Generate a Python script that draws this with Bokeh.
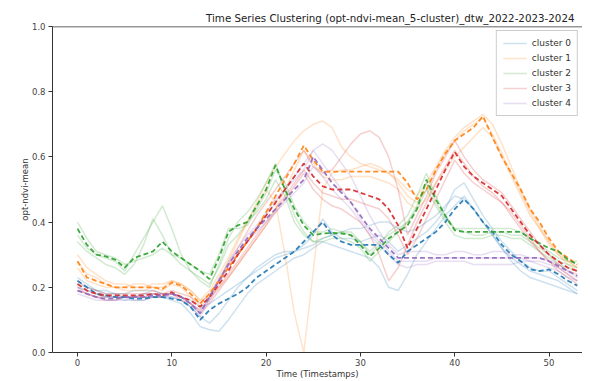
from bokeh.plotting import figure
from bokeh.models import Span, FixedTicker, NumeralTickFormatter, Legend, LegendItem
from bokeh.embed import file_html
from bokeh.resources import INLINE

timestamps = list(range(54))

cluster_names = ["cluster 0", "cluster 1", "cluster 2", "cluster 3", "cluster 4"]
cluster_colors = ["#1f77b4", "#ff7f0e", "#2ca02c", "#d62728", "#9467bd"]

# ---- cluster centroids (dashed) ----
centroid_0 = [0.22, 0.20, 0.18, 0.175, 0.17, 0.17, 0.165, 0.165, 0.17, 0.17,
              0.165, 0.16, 0.14, 0.10, 0.13, 0.15, 0.165, 0.18, 0.20, 0.23,
              0.25, 0.27, 0.29, 0.31, 0.34, 0.37, 0.40, 0.36, 0.34, 0.33,
              0.33, 0.33, 0.33, 0.30, 0.275, 0.31, 0.33, 0.35, 0.37, 0.40,
              0.44, 0.47, 0.44, 0.40, 0.37, 0.33, 0.30, 0.28, 0.255, 0.25,
              0.255, 0.24, 0.22, 0.205]
centroid_1 = [0.28, 0.23, 0.22, 0.21, 0.20, 0.20, 0.20, 0.20, 0.20, 0.195,
              0.215, 0.205, 0.18, 0.15, 0.18, 0.22, 0.26, 0.30, 0.34, 0.38,
              0.43, 0.48, 0.53, 0.58, 0.635, 0.59, 0.555, 0.555, 0.555, 0.555,
              0.555, 0.555, 0.555, 0.555, 0.555, 0.52, 0.47, 0.50, 0.56, 0.61,
              0.65, 0.67, 0.69, 0.725, 0.66, 0.60, 0.55, 0.50, 0.44, 0.40,
              0.35, 0.31, 0.29, 0.27]
centroid_2 = [0.38, 0.33, 0.30, 0.295, 0.285, 0.26, 0.29, 0.30, 0.31, 0.34,
              0.31, 0.29, 0.27, 0.25, 0.225, 0.29, 0.37, 0.39, 0.40, 0.45,
              0.50, 0.575, 0.50, 0.44, 0.39, 0.36, 0.365, 0.367, 0.365, 0.36,
              0.33, 0.295, 0.32, 0.35, 0.37, 0.39, 0.44, 0.53, 0.47, 0.42,
              0.375, 0.37, 0.37, 0.37, 0.37, 0.37, 0.37, 0.37, 0.35, 0.335,
              0.32, 0.31, 0.285, 0.27]
centroid_3 = [0.21, 0.19, 0.18, 0.175, 0.175, 0.175, 0.175, 0.175, 0.18, 0.175,
              0.185, 0.17, 0.16, 0.14, 0.17, 0.21, 0.25, 0.30, 0.34, 0.38,
              0.42, 0.46, 0.50, 0.54, 0.58, 0.54, 0.51, 0.50, 0.50, 0.50,
              0.49, 0.48, 0.47, 0.44, 0.39, 0.32, 0.38, 0.44, 0.50, 0.56,
              0.615, 0.57, 0.54, 0.52, 0.50, 0.48, 0.44, 0.40, 0.36, 0.33,
              0.30, 0.28, 0.26, 0.25]
centroid_4 = [0.19, 0.18, 0.17, 0.165, 0.165, 0.17, 0.17, 0.17, 0.175, 0.175,
              0.18, 0.17, 0.15, 0.12, 0.17, 0.22, 0.27, 0.31, 0.35, 0.38,
              0.41, 0.44, 0.47, 0.50, 0.53, 0.60, 0.56, 0.52, 0.49, 0.46,
              0.42, 0.38, 0.35, 0.32, 0.29, 0.29, 0.29, 0.29, 0.29, 0.29,
              0.29, 0.29, 0.29, 0.29, 0.29, 0.29, 0.29, 0.29, 0.29, 0.29,
              0.28, 0.265, 0.25, 0.235]

# ---- member series (faint) ----
member_0a = [0.20, 0.19, 0.18, 0.17, 0.17, 0.16, 0.16, 0.16, 0.17, 0.17,
             0.16, 0.15, 0.12, 0.08, 0.07, 0.065, 0.10, 0.14, 0.18, 0.21,
             0.23, 0.25, 0.27, 0.29, 0.30, 0.32, 0.34, 0.33, 0.32, 0.31,
             0.30, 0.29, 0.26, 0.20, 0.19, 0.24, 0.30, 0.34, 0.38, 0.42,
             0.45, 0.48, 0.44, 0.40, 0.36, 0.32, 0.28, 0.25, 0.23, 0.22,
             0.21, 0.20, 0.19, 0.18]
member_0b = [0.23, 0.21, 0.19, 0.18, 0.18, 0.17, 0.17, 0.18, 0.18, 0.17,
             0.17, 0.16, 0.14, 0.11, 0.09, 0.12, 0.16, 0.20, 0.23, 0.25,
             0.27, 0.29, 0.30, 0.31, 0.33, 0.36, 0.41, 0.37, 0.35, 0.35,
             0.34, 0.35, 0.36, 0.34, 0.31, 0.33, 0.35, 0.37, 0.40, 0.44,
             0.50, 0.52, 0.47, 0.42, 0.38, 0.34, 0.31, 0.28, 0.26, 0.25,
             0.25, 0.23, 0.21, 0.19]
member_0c = [0.21, 0.20, 0.19, 0.19, 0.18, 0.18, 0.19, 0.19, 0.19, 0.18,
             0.18, 0.17, 0.16, 0.14, 0.15, 0.17, 0.19, 0.21, 0.23, 0.26,
             0.28, 0.30, 0.31, 0.31, 0.32, 0.33, 0.35, 0.36, 0.37, 0.38,
             0.38, 0.39, 0.40, 0.40, 0.38, 0.37, 0.38, 0.40, 0.42, 0.45,
             0.48, 0.47, 0.44, 0.40, 0.36, 0.32, 0.29, 0.27, 0.25, 0.24,
             0.23, 0.22, 0.20, 0.18]
member_1a = [0.30, 0.26, 0.24, 0.22, 0.21, 0.21, 0.20, 0.20, 0.21, 0.21,
             0.22, 0.21, 0.19, 0.16, 0.19, 0.24, 0.29, 0.35, 0.40, 0.45,
             0.50, 0.46, 0.30, 0.12, 0.00, 0.25, 0.50, 0.55, 0.56, 0.56,
             0.57, 0.58, 0.57, 0.55, 0.52, 0.48, 0.46, 0.50, 0.56, 0.61,
             0.65, 0.68, 0.70, 0.72, 0.67, 0.61, 0.55, 0.49, 0.43, 0.38,
             0.33, 0.30, 0.27, 0.25]
member_1b = [0.26, 0.22, 0.21, 0.20, 0.20, 0.19, 0.19, 0.19, 0.20, 0.19,
             0.21, 0.20, 0.17, 0.14, 0.17, 0.22, 0.28, 0.34, 0.40, 0.46,
             0.52, 0.57, 0.61, 0.65, 0.68, 0.70, 0.71, 0.69, 0.63, 0.60,
             0.58, 0.57, 0.56, 0.55, 0.53, 0.50, 0.48, 0.52, 0.57, 0.62,
             0.66, 0.69, 0.71, 0.73, 0.70, 0.64, 0.57, 0.50, 0.44, 0.39,
             0.34, 0.30, 0.28, 0.26]
member_1c = [0.28, 0.24, 0.23, 0.21, 0.20, 0.20, 0.21, 0.21, 0.20, 0.20,
             0.22, 0.21, 0.19, 0.16, 0.17, 0.20, 0.23, 0.27, 0.31, 0.35,
             0.39, 0.44, 0.50, 0.56, 0.62, 0.58, 0.54, 0.53, 0.53, 0.54,
             0.54, 0.54, 0.53, 0.52, 0.50, 0.46, 0.44, 0.47, 0.52, 0.56,
             0.60, 0.63, 0.66, 0.69, 0.66, 0.60, 0.54, 0.48, 0.42, 0.38,
             0.34, 0.31, 0.28, 0.26]
member_2a = [0.36, 0.32, 0.30, 0.29, 0.28, 0.25, 0.30, 0.35, 0.40, 0.45,
             0.38, 0.30, 0.25, 0.22, 0.20, 0.27, 0.35, 0.40, 0.43, 0.47,
             0.52, 0.58, 0.50, 0.42, 0.37, 0.34, 0.35, 0.36, 0.37, 0.36,
             0.34, 0.30, 0.33, 0.37, 0.39, 0.42, 0.48, 0.55, 0.48, 0.42,
             0.38, 0.37, 0.36, 0.36, 0.37, 0.37, 0.36, 0.36, 0.34, 0.32,
             0.30, 0.28, 0.27, 0.26]
member_2b = [0.40, 0.35, 0.31, 0.30, 0.29, 0.27, 0.28, 0.29, 0.30, 0.32,
             0.30, 0.29, 0.27, 0.25, 0.24, 0.30, 0.38, 0.38, 0.39, 0.44,
             0.49, 0.56, 0.52, 0.45, 0.40, 0.37, 0.37, 0.38, 0.37, 0.37,
             0.34, 0.31, 0.34, 0.36, 0.38, 0.40, 0.45, 0.52, 0.46, 0.41,
             0.38, 0.38, 0.38, 0.38, 0.38, 0.38, 0.38, 0.37, 0.35, 0.33,
             0.31, 0.29, 0.28, 0.28]
member_2c = [0.34, 0.31, 0.29, 0.27, 0.26, 0.24, 0.27, 0.33, 0.41, 0.36,
             0.30, 0.27, 0.25, 0.23, 0.21, 0.26, 0.33, 0.36, 0.40, 0.43,
             0.47, 0.53, 0.48, 0.40, 0.36, 0.34, 0.34, 0.35, 0.35, 0.34,
             0.32, 0.28, 0.31, 0.34, 0.37, 0.40, 0.44, 0.50, 0.45, 0.40,
             0.36, 0.35, 0.35, 0.35, 0.36, 0.36, 0.35, 0.35, 0.33, 0.31,
             0.29, 0.27, 0.26, 0.25]
member_3a = [0.22, 0.20, 0.19, 0.18, 0.18, 0.18, 0.18, 0.18, 0.19, 0.18,
             0.19, 0.18, 0.17, 0.15, 0.18, 0.22, 0.27, 0.32, 0.37, 0.42,
             0.46, 0.50, 0.54, 0.58, 0.62, 0.57, 0.55, 0.56, 0.60, 0.64,
             0.67, 0.68, 0.66, 0.60, 0.50, 0.36, 0.42, 0.48, 0.55, 0.60,
             0.65, 0.60, 0.56, 0.53, 0.51, 0.49, 0.45, 0.41, 0.37, 0.33,
             0.30, 0.27, 0.25, 0.24]
member_3b = [0.20, 0.18, 0.17, 0.17, 0.17, 0.17, 0.17, 0.17, 0.17, 0.17,
             0.18, 0.16, 0.15, 0.13, 0.16, 0.20, 0.24, 0.28, 0.32, 0.36,
             0.40, 0.44, 0.48, 0.52, 0.56, 0.52, 0.49, 0.48, 0.47, 0.47,
             0.46, 0.45, 0.44, 0.41, 0.36, 0.30, 0.35, 0.41, 0.47, 0.53,
             0.59, 0.55, 0.52, 0.50, 0.48, 0.46, 0.42, 0.38, 0.34, 0.31,
             0.28, 0.26, 0.24, 0.22]
member_3c = [0.19, 0.18, 0.17, 0.16, 0.16, 0.17, 0.17, 0.17, 0.18, 0.18,
             0.18, 0.17, 0.15, 0.12, 0.15, 0.19, 0.23, 0.27, 0.31, 0.35,
             0.39, 0.43, 0.47, 0.51, 0.55, 0.50, 0.47, 0.45, 0.44, 0.42,
             0.40, 0.36, 0.30, 0.22, 0.26, 0.33, 0.40, 0.46, 0.52, 0.57,
             0.62, 0.58, 0.54, 0.51, 0.49, 0.46, 0.43, 0.39, 0.35, 0.31,
             0.28, 0.25, 0.23, 0.21]
member_4a = [0.18, 0.17, 0.16, 0.16, 0.16, 0.16, 0.17, 0.17, 0.17, 0.17,
             0.17, 0.16, 0.14, 0.11, 0.16, 0.21, 0.26, 0.30, 0.34, 0.38,
             0.42, 0.46, 0.50, 0.53, 0.56, 0.62, 0.58, 0.54, 0.50, 0.46,
             0.41, 0.37, 0.34, 0.31, 0.28, 0.28, 0.28, 0.28, 0.29, 0.29,
             0.29, 0.29, 0.29, 0.29, 0.29, 0.29, 0.29, 0.29, 0.28, 0.28,
             0.27, 0.26, 0.24, 0.22]
member_4b = [0.20, 0.19, 0.18, 0.17, 0.17, 0.17, 0.17, 0.18, 0.18, 0.18,
             0.18, 0.17, 0.15, 0.12, 0.17, 0.22, 0.28, 0.32, 0.36, 0.39,
             0.43, 0.47, 0.50, 0.54, 0.58, 0.62, 0.64, 0.62, 0.58, 0.54,
             0.48, 0.42, 0.37, 0.33, 0.30, 0.31, 0.31, 0.31, 0.30, 0.30,
             0.31, 0.31, 0.30, 0.30, 0.31, 0.31, 0.30, 0.30, 0.29, 0.29,
             0.28, 0.27, 0.25, 0.23]
member_4c = [0.19, 0.18, 0.17, 0.16, 0.16, 0.17, 0.16, 0.16, 0.17, 0.17,
             0.18, 0.17, 0.15, 0.13, 0.17, 0.23, 0.27, 0.31, 0.34, 0.37,
             0.40, 0.43, 0.46, 0.49, 0.52, 0.57, 0.54, 0.50, 0.47, 0.44,
             0.40, 0.36, 0.33, 0.30, 0.27, 0.26, 0.27, 0.27, 0.28, 0.28,
             0.28, 0.28, 0.27, 0.27, 0.27, 0.27, 0.27, 0.28, 0.28, 0.27,
             0.26, 0.25, 0.23, 0.22]

members = [
    [member_0a, member_0b, member_0c],
    [member_1a, member_1b, member_1c],
    [member_2a, member_2b, member_2c],
    [member_3a, member_3b, member_3c],
    [member_4a, member_4b, member_4c],
]
centroids = [centroid_0, centroid_1, centroid_2, centroid_3, centroid_4]

for group in members:
    for s in group:
        assert len(s) == len(timestamps), len(s)
for s in centroids:
    assert len(s) == len(timestamps), len(s)

x_ticks = [0, 10, 20, 30, 40, 50]
y_ticks = [0.0, 0.2, 0.4, 0.6, 0.8, 1.0]

FONT = "DejaVu Sans"

p = figure(width=582, height=381, output_backend="svg", toolbar_location=None,
           x_range=(-2.65, 53.55), y_range=(0.0, 1.0),
           min_border_left=52, min_border_right=0, min_border_top=26,
           min_border_bottom=28,
           title="Time Series Clustering (opt-ndvi-mean_5-cluster)_dtw_2022-2023-2024")
p.title.text_font = FONT
p.title.text_font_size = "10.3px"
p.title.text_font_style = "normal"
p.title.align = "right"
p.title.offset = 8
p.title.text_color = "#222222"
p.title.standoff = 6

p.outline_line_color = None
p.xgrid.visible = False
p.ygrid.visible = False
p.background_fill_color = "white"

for ax in (p.xaxis[0], p.yaxis[0]):
    ax.axis_line_color = "#333333"
    ax.major_tick_line_color = "#333333"
    ax.minor_tick_line_color = None
    ax.major_tick_out = 4
    ax.major_tick_in = 0
    ax.major_label_text_font = FONT
    ax.major_label_text_font_size = "8.5px"
    ax.major_label_text_color = "#444444"
    ax.axis_label_text_font = FONT
    ax.axis_label_text_font_size = "8.5px"
    ax.axis_label_text_font_style = "normal"
    ax.axis_label_text_color = "#333333"
    ax.major_label_standoff = 3

p.xaxis.ticker = FixedTicker(ticks=x_ticks)
p.yaxis.ticker = FixedTicker(ticks=y_ticks)
p.yaxis.formatter = NumeralTickFormatter(format="0.0")
p.xaxis.axis_label = "Time (Timestamps)"
p.yaxis.axis_label = "opt-ndvi-mean"
p.xaxis.axis_label_standoff = 0
p.xaxis.major_label_standoff = 2
p.yaxis.axis_label_standoff = -1

p.add_layout(Span(location=1.0, dimension="width", line_color="#333333", line_width=1.5))

legend_items = []
for k in range(5):
    color = cluster_colors[k]
    renderers = []
    for s in members[k]:
        r = p.line(timestamps, s, line_color=color, line_alpha=0.22, line_width=1.5)
        renderers.append(r)
    legend_items.append(LegendItem(label=cluster_names[k], renderers=[renderers[0]]))

for k in range(5):
    p.line(timestamps, centroids[k], line_color=cluster_colors[k], line_width=1.8,
           line_dash="5 3", line_alpha=0.9)

legend = Legend(items=legend_items, location="top_right")
legend.label_text_font = FONT
legend.label_text_font_size = "9px"
legend.label_text_color = "#333333"
legend.glyph_width = 24
legend.glyph_height = 12
legend.label_height = 12
legend.spacing = 3
legend.padding = 6
legend.margin = 4
legend.border_line_color = "#cccccc"
legend.border_line_alpha = 1.0
legend.background_fill_alpha = 0.8
p.add_layout(legend)

open("out.html", "w").write(file_html(p, INLINE))
